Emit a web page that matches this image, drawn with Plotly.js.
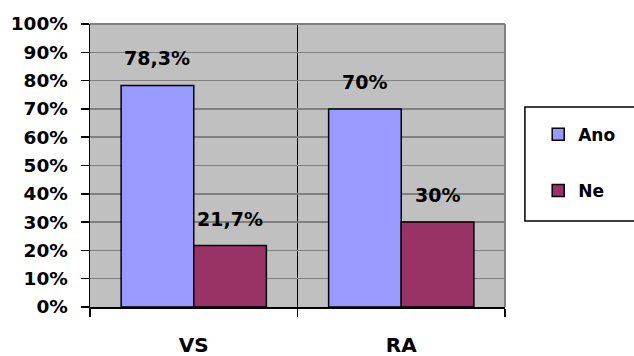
<!DOCTYPE html>
<html>
<head>
<meta charset="utf-8">
<script src="https://cdn.plot.ly/plotly-3.0.1.min.js"></script>
<style>html,body{margin:0;padding:0;background:#fff;}#chart{width:634px;height:356px;}</style>
</head>
<body>
<div id="chart"></div>
<script>
const categories = ['VS', 'RA'];
const seriesNames = ['Ano', 'Ne'];
const anoValues = [78.3, 70];
const neValues = [21.7, 30];
const yTickVals = [0, 10, 20, 30, 40, 50, 60, 70, 80, 90, 100];

const fmt = v => String(v).replace('.', ',') + '%';
const FONT = 'DejaVu Sans, Arial, sans-serif';

const colors = ['#9999FF', '#993366'];
const seriesValues = [anoValues, neValues];

const traces = seriesValues.map((vals, i) => ({
  type: 'bar',
  name: seriesNames[i],
  x: categories,
  y: vals,
  legendgroup: seriesNames[i],
  marker: {color: colors[i], line: {color: '#000000', width: 1.5}},
  hoverinfo: 'skip'
}));

const annotations = [];
seriesValues.forEach((vals, i) => {
  vals.forEach((v, j) => {
    annotations.push({
      x: categories[j], y: v, xref: 'x', yref: 'y',
      text: fmt(v), showarrow: false,
      xshift: (i === 0 ? -36.3 : 36.3), yshift: 27,
      yanchor: 'middle', xanchor: 'center',
      font: {family: FONT, size: 19, color: '#000', weight: 'bold'}
    });
  });
});

const layout = {
  width: 634, height: 356,
  margin: {l: 90, r: 129, t: 24, b: 49, autoexpand: false},
  paper_bgcolor: '#ffffff',
  plot_bgcolor: '#C0C0C0',
  barmode: 'group', bargap: 0.3, bargroupgap: 0,
  showlegend: true,
  legend: {
    x: 1.08, xanchor: 'left', y: 0.672, yanchor: 'top',
    bgcolor: 'rgba(0,0,0,0)', borderwidth: 0,
    traceorder: 'grouped', tracegroupgap: 31,
    font: {family: FONT, size: 17, color: '#000', weight: 'bold'}
  },
  xaxis: {
    type: 'category', range: [-0.5, 1.5],
    tickson: 'boundaries', ticks: 'outside', ticklen: 8, tickwidth: 1.5, tickcolor: '#000',
    showgrid: true, gridcolor: '#000000', gridwidth: 1.5,
    showline: true, linecolor: '#000', linewidth: 1.5,
    tickfont: {family: FONT, size: 20, color: '#000', weight: 'bold'},
    ticklabelstandoff: 19,
    fixedrange: true
  },
  yaxis: {
    range: [0, 100], tickvals: yTickVals, ticktext: yTickVals.map(v => v + '%'),
    ticks: 'outside', ticklen: 8, tickwidth: 1.5, tickcolor: '#000',
    showgrid: true, gridcolor: '#808080', gridwidth: 1.5,
    zeroline: false,
    showline: true, linecolor: '#000', linewidth: 1.5,
    tickfont: {family: FONT, size: 18.5, color: '#000', weight: 'bold'},
    ticklabelstandoff: 9,
    fixedrange: true
  },
  shapes: [
    {type: 'line', xref: 'paper', yref: 'paper', x0: 1, x1: 1, y0: 0, y1: 1,
     line: {color: '#808080', width: 2}, layer: 'above'},
    {type: 'line', xref: 'paper', yref: 'paper', x0: 0, x1: 1, y0: 1, y1: 1,
     line: {color: '#808080', width: 2}, layer: 'above'},
    {type: 'rect', xref: 'paper', yref: 'paper', x0: 1.048, x1: 1.35, y0: 0.304, y1: 0.707,
     line: {color: '#000', width: 1.5}, fillcolor: 'rgba(255,255,255,0)', layer: 'above'}
  ],
  annotations: annotations
};

Plotly.newPlot('chart', traces, layout, {displayModeBar: false, staticPlot: true});
</script>
</body>
</html>
